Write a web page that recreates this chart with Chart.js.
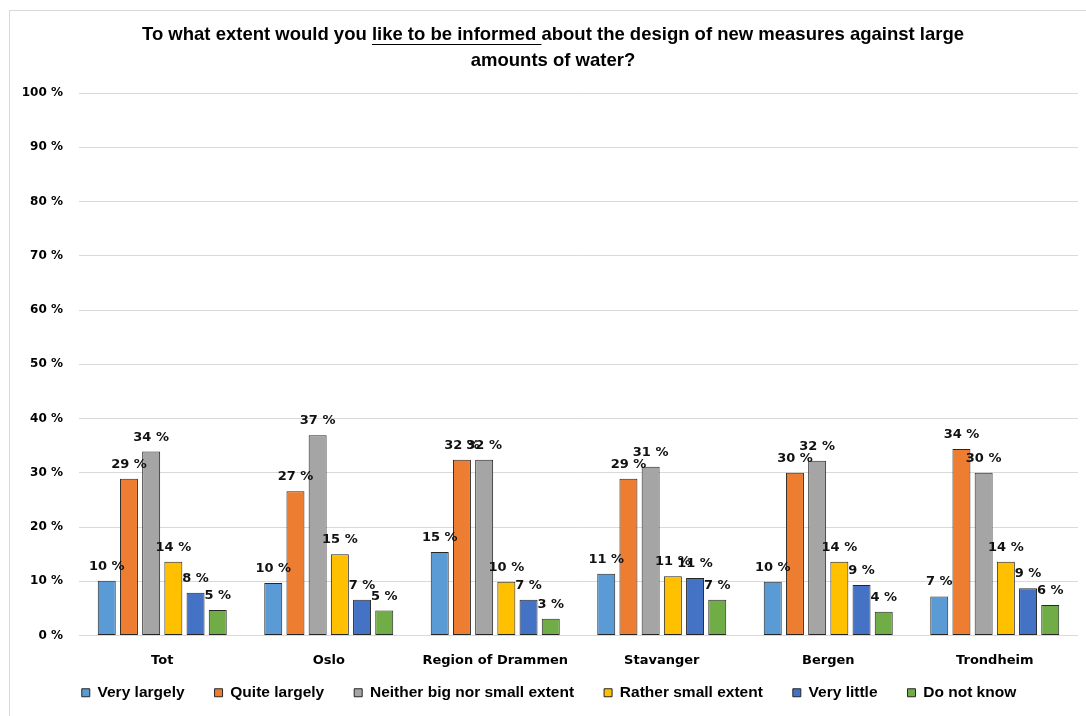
<!DOCTYPE html>
<html>
<head>
<meta charset="utf-8">
<script src="https://cdn.jsdelivr.net/npm/chart.js@4"></script>
<style>
html,body{margin:0;padding:0;background:#fff;}
canvas{display:block;}
</style>
</head>
<body>
<canvas id="c" width="1086" height="716"></canvas>
<script>
const categories = ["Tot", "Oslo", "Region of Drammen", "Stavanger", "Bergen", "Trondheim"];
const seriesNames = ["Very largely", "Quite largely", "Neither big nor small extent", "Rather small extent", "Very little", "Do not know"];
const veryLargely = [10.1, 9.7, 15.4, 11.4, 9.9, 7.2];
const quiteLargely = [28.9, 26.6, 32.4, 28.9, 30.0, 34.4];
const neitherExtent = [33.9, 36.9, 32.4, 31.1, 32.2, 30.0];
const ratherSmall = [13.6, 15.0, 9.9, 10.9, 13.6, 13.6];
const veryLittle = [7.9, 6.6, 6.6, 10.6, 9.3, 8.7];
const doNotKnow = [4.7, 4.6, 3.1, 6.6, 4.4, 5.6];
const yTicks = [0, 10, 20, 30, 40, 50, 60, 70, 80, 90, 100];
const titleParts = ["To what extent would you ", "like to be informed ", "about the design of new measures against large"];
const titleLine2 = "amounts of water?";

const colors = ["#5B9BD5", "#ED7D31", "#A5A5A5", "#FFC000", "#4472C4", "#70AD47"];
const seriesData = [veryLargely, quiteLargely, neitherExtent, ratherSmall, veryLittle, doNotKnow];

const datasets = seriesNames.map((name, i) => ({
  label: name,
  data: seriesData[i],
  backgroundColor: colors[i],
  borderColor: "#262626",
  borderWidth: 1,
  borderSkipped: false,
  categoryPercentage: 0.8,
  barPercentage: 0.81
}));

const decor = {
  id: "decor",
  beforeDraw(chart) {
    const ctx = chart.ctx;
    ctx.save();
    ctx.fillStyle = "#fff";
    ctx.fillRect(0, 0, chart.width, chart.height);
    ctx.strokeStyle = "#d9d9d9";
    ctx.lineWidth = 1;
    ctx.strokeRect(9.5, 10.5, 1200, 900);
    ctx.restore();
  },
  afterDatasetsDraw(chart) {
    const ctx = chart.ctx;
    ctx.save();
    ctx.font = "bold 13px 'DejaVu Sans'";
    ctx.fillStyle = "#111";
    ctx.textAlign = "center";
    ctx.textBaseline = "alphabetic";
    chart.data.datasets.forEach((ds, di) => {
      const meta = chart.getDatasetMeta(di);
      meta.data.forEach((bar, j) => {
        const v = ds.data[j];
        ctx.fillText(Math.round(v) + " %", bar.x, bar.y - 11);
      });
    });
    ctx.restore();
  },
  afterDraw(chart) {
    const ctx = chart.ctx;
    ctx.save();
    ctx.font = "bold 18.5px 'Liberation Sans'";
    ctx.fillStyle = "#000";
    ctx.textBaseline = "middle";
    ctx.textAlign = "left";
    const cx = 553;
    const widths = titleParts.map(p => ctx.measureText(p).width);
    const total = widths.reduce((a, b) => a + b, 0);
    let x = cx - total / 2;
    const y1 = 35;
    titleParts.forEach((p, i) => {
      ctx.fillText(p, x, y1);
      if (i === 1) {
        const uw = widths[i];
        ctx.strokeStyle = "#000";
        ctx.lineWidth = 1;
        ctx.beginPath();
        ctx.moveTo(x, y1 + 9.5);
        ctx.lineTo(x + uw, y1 + 9.5);
        ctx.stroke();
      }
      x += widths[i];
    });
    ctx.textAlign = "center";
    ctx.fillText(titleLine2, cx, 61);
    ctx.restore();
  }
};

new Chart(document.getElementById("c"), {
  type: "bar",
  data: { labels: categories, datasets },
  plugins: [decor],
  options: {
    responsive: false,
    devicePixelRatio: 1,
    animation: false,
    layout: { padding: { top: 93, right: 8, left: 20, bottom: 5.5 } },
    plugins: {
      title: { display: false },
      tooltip: { enabled: false },
      legend: {
        position: "bottom",
        labels: {
          boxWidth: 8,
          boxHeight: 8,
          padding: 30,
          color: "#000",
          font: { family: "'Liberation Sans'", size: 15.5, weight: "bold" }
        }
      }
    },
    scales: {
      x: {
        grid: { display: false, drawTicks: false },
        border: { display: false },
        ticks: {
          mirror: true,
          padding: -33,
          color: "#000",
          font: { family: "'DejaVu Sans'", size: 13, weight: "bold" }
        },
        afterFit(scale) { scale.height = 19.5; }
      },
      y: {
        min: 0,
        max: 100,
        afterBuildTicks(scale) { scale.ticks = yTicks.map(v => ({ value: v })); },
        grid: { color: "#d9d9d9", drawTicks: false },
        border: { display: false },
        ticks: {
          padding: 16,
          color: "#000",
          font: { family: "'DejaVu Sans'", size: 12, weight: "bold" },
          callback: v => v + " %"
        },
        afterFit(scale) { scale.width = 59; }
      }
    }
  }
});
</script>
</body>
</html>
